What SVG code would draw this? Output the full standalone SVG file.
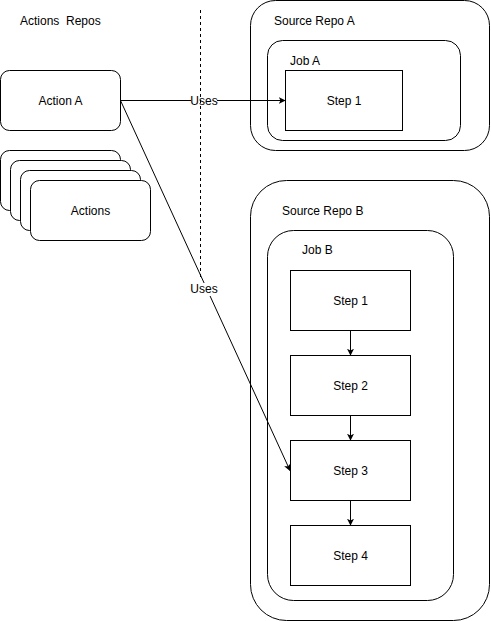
<svg xmlns="http://www.w3.org/2000/svg" width="491" height="621" viewBox="0 0 491 621">
<defs>
<style>
text{font-family:"Liberation Sans",Arial,sans-serif;font-size:12px;fill:#000}
.c{text-anchor:middle}
.b{fill:#fff;stroke:#000;stroke-width:1}
.e{fill:none;stroke:#000;stroke-width:1}
</style>
<marker id="ah" viewBox="0 0 10 10" refX="9" refY="5" markerWidth="7" markerHeight="7" orient="auto" markerUnits="userSpaceOnUse">
<path d="M0,0 L10,5 L0,10 L2.5,5 Z" fill="#000"/>
</marker>
</defs>
<rect width="491" height="621" fill="#fff"/>
<g id="title"><text x="20" y="25" style="white-space:pre">Actions  Repos</text></g>
<g id="action-a"><rect class="b" x="0.5" y="70.5" width="120" height="60" rx="9"/><text class="c" x="60.5" y="105">Action A</text></g>
<g id="actions">
<rect class="b" x="0.5" y="150.5" width="120" height="60" rx="9"/>
<rect class="b" x="10.5" y="160.5" width="120" height="60" rx="9"/>
<rect class="b" x="20.5" y="170.5" width="120" height="60" rx="9"/>
<rect class="b" x="30.5" y="180.5" width="120" height="60" rx="9"/>
<text class="c" x="90.5" y="215">Actions</text>
</g>
<g id="source-repo-a"><rect class="b" x="250.5" y="0.5" width="239" height="150" rx="25"/><text x="274" y="25">Source Repo A</text></g>
<g id="job-a"><rect class="b" x="267.5" y="40.5" width="193" height="100" rx="15"/><text x="290" y="65">Job A</text></g>
<g id="step-a1"><rect class="b" x="285.5" y="70.5" width="117" height="60"/><text class="c" x="344" y="105">Step 1</text></g>
<g id="source-repo-b"><rect class="b" x="250.5" y="180.5" width="239" height="440" rx="36"/><text x="282" y="215">Source Repo B</text></g>
<g id="job-b"><rect class="b" x="267.5" y="230.5" width="186" height="370" rx="26"/><text x="302" y="254">Job B</text></g>
<g id="step-b1"><rect class="b" x="290.5" y="270.5" width="120" height="60"/><text class="c" x="350.5" y="305">Step 1</text></g>
<g id="step-b2"><rect class="b" x="290.5" y="355.5" width="120" height="60"/><text class="c" x="350.5" y="390">Step 2</text></g>
<g id="step-b3"><rect class="b" x="290.5" y="440.5" width="120" height="60"/><text class="c" x="350.5" y="475">Step 3</text></g>
<g id="step-b4"><rect class="b" x="290.5" y="525.5" width="120" height="60"/><text class="c" x="350.5" y="560">Step 4</text></g>
<g id="connectors">
<line class="e" x1="120.5" y1="100.5" x2="285" y2="100.5" marker-end="url(#ah)"/>
<rect x="191" y="94" width="26" height="13" fill="#fff"/>
<line class="e" x1="120.5" y1="100.5" x2="290" y2="470.5" stroke="#333" marker-end="url(#ah)"/>
<rect x="191" y="283" width="26" height="13" fill="#fff"/>
<line x1="200.5" y1="10" x2="200.5" y2="280" stroke="#000" stroke-dasharray="3,3"/>
<text class="c" x="204" y="105">Uses</text>
<text class="c" x="204" y="293">Uses</text>
<line class="e" x1="350.5" y1="330.5" x2="350.5" y2="355" marker-end="url(#ah)"/>
<line class="e" x1="350.5" y1="415.5" x2="350.5" y2="440" marker-end="url(#ah)"/>
<line class="e" x1="350.5" y1="500.5" x2="350.5" y2="525" marker-end="url(#ah)"/>
</g>
</svg>
